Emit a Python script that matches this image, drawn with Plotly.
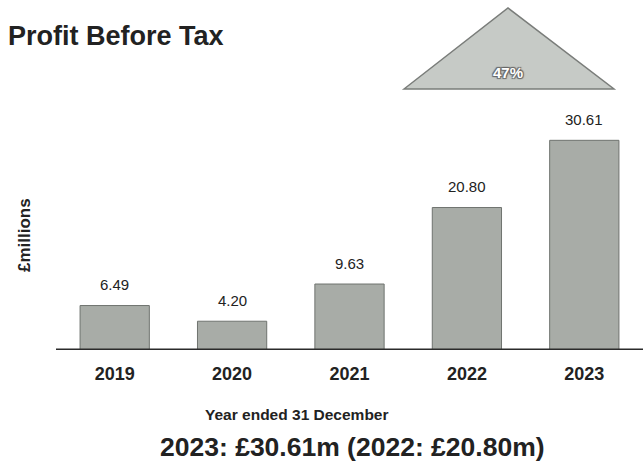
import plotly.graph_objects as go

# Profit before tax, £ millions, year ended 31 December
years = ["2019", "2020", "2021", "2022", "2023"]
profit = [6.49, 4.20, 9.63, 20.80, 30.61]
growth_label = "47%"
summary = "2023: £30.61m (2022: £20.80m)"

FONT = "Liberation Sans, Arial, sans-serif"
W, H = 643, 461
L, R, T, B = 56, 0, 76, 111

fig = go.Figure()
fig.add_trace(go.Bar(
    x=years, y=profit,
    marker=dict(color="#a8aca7", line=dict(color="#6f736f", width=1)),
    hoverinfo="skip",
))

# value labels above each bar (x given as category index)
for i, v in enumerate(profit):
    fig.add_annotation(x=i, y=v, text=f"{v:.2f}", showarrow=False,
                       xanchor="center", yanchor="middle", yshift=21,
                       font=dict(family=FONT, size=15, color="#222"))

# baseline
fig.add_shape(type="line", xref="paper", yref="y", x0=0, x1=1, y0=0, y1=0,
              line=dict(color="#2b2b2b", width=3))

# growth triangle
pw, ph = W - L - R, H - T - B
def px(x): return (x - L) / pw
def py(y): return (H - B - y) / ph
fig.add_shape(type="path", xref="paper", yref="paper",
              path=f"M {px(404)},{py(89)} L {px(508)},{py(8)} L {px(614)},{py(89)} Z",
              fillcolor="#c6cac6", line=dict(color="#7a7d7a", width=1.5))
fig.add_annotation(xref="paper", yref="paper", x=px(508), y=py(72),
                   text=f"<b>{growth_label}</b>", showarrow=False,
                   xanchor="center", yanchor="middle",
                   font=dict(family=FONT, size=15, color="white",
                             shadow="1px 1px 1px #666, -1px -1px 1px #666, 1px -1px 1px #666, -1px 1px 1px #666"))

# y-axis title
fig.add_annotation(xref="paper", yref="paper", x=px(24), y=py(235),
                   text="<b>£millions</b>", textangle=-90, showarrow=False,
                   xanchor="center", yanchor="middle",
                   font=dict(family=FONT, size=17, color="#222"))

# x-axis caption and summary line
fig.add_annotation(xref="paper", yref="paper", x=px(296.5), y=py(414),
                   text="<b>Year ended 31 December</b>", showarrow=False,
                   xanchor="center", yanchor="middle",
                   font=dict(family=FONT, size=15.5, color="#222"))
fig.add_annotation(xref="paper", yref="paper", x=px(352.5), y=py(447),
                   text=f"<b>{summary}</b>", showarrow=False,
                   xanchor="center", yanchor="middle",
                   font=dict(family=FONT, size=26.5, color="#222"))

fig.update_layout(
    width=W, height=H,
    margin=dict(l=L, r=R, t=T, b=B),
    paper_bgcolor="white", plot_bgcolor="white",
    showlegend=False, bargap=0.41,
    title=dict(text="<b>Profit Before Tax</b>", x=8 / W, xanchor="left",
               y=1 - 36 / H, yanchor="middle", yref="container",
               font=dict(family=FONT, size=27, color="#222")),
    xaxis=dict(type="category", range=[-0.5, len(years) - 0.5],
               showgrid=False, showline=False, ticks="",
               zeroline=False, ticklabelstandoff=11,
               tickfont=dict(family=FONT, size=18, color="#222", weight="bold")),
    yaxis=dict(range=[0, 40], visible=False, showgrid=False),
)

fig.write_html("out.html")
